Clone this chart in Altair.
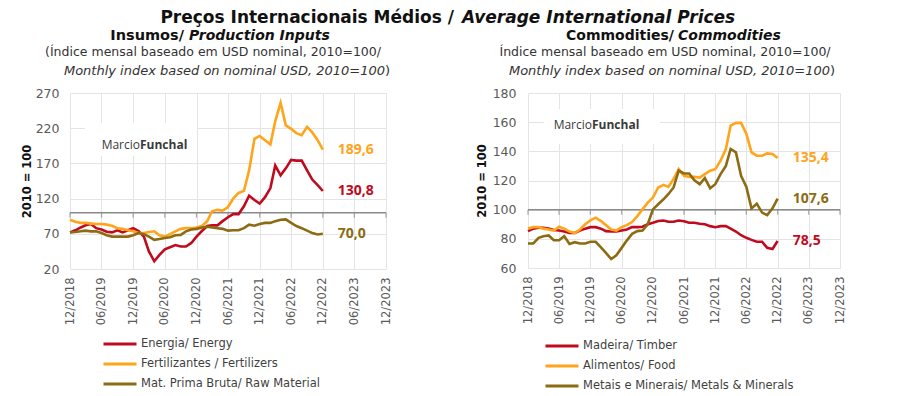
import altair as alt
import pandas as pd

FONT = "DejaVu Sans"
NUMFONT = "Open Sans"
RED = "#C00A1E"
ORANGE = "#FFA41B"
OLIVE = "#8C6B12"
GRID = "#E4E4E4"
LABEL = "#5A5A5A"

# Monthly dates 12/2018 .. 12/2022
months = [(2018, 12)] + [(y, m) for y in range(2019, 2023) for m in range(1, 13)]
dates = [f"{y}-{m:02d}-01T00:00:00" for y, m in months]

# Tick positions (every six months, 12/2018 .. 12/2023)
tick_months = [(2018, 12), (2019, 6), (2019, 12), (2020, 6), (2020, 12), (2021, 6),
               (2021, 12), (2022, 6), (2022, 12), (2023, 6), (2023, 12)]

# ---- Left panel: Insumos / Production Inputs ----
left_names = ["Energia/ Energy", "Fertilizantes / Fertilizers", "Mat. Prima Bruta/ Raw Material"]
energy = [72, 75, 79, 82, 84, 78, 76, 73, 72, 75,
          72, 75, 78, 74, 66, 45, 31, 40, 48, 51,
          54, 52, 52, 57, 66, 74, 81, 82, 82, 88,
          93.5, 98, 98, 109, 124, 118, 113, 122, 135, 167,
          153, 163, 175, 174, 174, 160, 147, 139, 130.8]
fertilizers = [90, 87, 85.5, 85.5, 84.5, 84, 84, 83, 81.5, 78,
               77, 75, 73.5, 71, 71, 72.5, 73.5, 68, 66, 69.5,
               73.5, 77, 78, 78, 79, 81, 88, 102, 104, 103,
               108, 120, 128, 131, 160, 205, 209, 203, 197, 230,
               256, 224, 219, 213, 210, 222, 214, 203, 189.6]
raw_material = [72, 72.5, 73.5, 74.5, 73.5, 73.5, 71, 68, 66, 66,
                66, 66, 68, 71, 69.5, 66, 61.5, 62.5, 64, 65,
                68, 68.5, 73.5, 76, 77, 79, 80, 79, 78, 77,
                74.5, 75, 75, 78, 83, 81.5, 84, 85.5, 85.5, 88,
                90, 90.5, 85.5, 81, 78, 74.5, 71, 69, 70.0]
left_end_labels = ["130,8", "189,6", "70,0"]

# ---- Right panel: Commodities ----
right_names = ["Madeira/ Timber", "Alimentos/ Food", "Metais e Minerais/ Metals & Minerals"]
timber = [85.3, 87, 87.6, 87.6, 87, 86, 85.7, 85, 84, 84,
          85.7, 87, 88, 88, 87, 85.3, 85, 85, 85.7, 86.4,
          88, 88, 88.3, 90, 91, 92.2, 92.6, 91.7, 91.7, 92.6,
          92, 91, 91, 90.3, 90, 88.7, 88, 88.7, 88.7, 87,
          85, 82.5, 80.7, 79.3, 78, 78, 73.8, 73, 78.5]
food = [87, 88, 88, 87, 86.4, 85.7, 88.3, 87, 85, 84,
        86.4, 90, 92.6, 94.5, 92.2, 89.4, 86.4, 85.7, 88, 89.4,
        91.5, 95.6, 100.2, 104.8, 108.3, 115.2, 117, 115.6, 121, 127.8,
        123.2, 122.5, 122.5, 122, 124.4, 126.7, 127.8, 133.6, 141.6, 157.7,
        159.5, 159.5, 152, 139.3, 137, 137, 138.6, 138.2, 135.4]
metals = [76.8, 76.8, 80.7, 81.8, 82.3, 79, 79, 81.8, 76.5, 77.7,
          76.8, 76.8, 78, 78, 74.2, 70.3, 66.2, 68.7, 73.8, 78.8,
          83.4, 85.3, 85.7, 90, 100.2, 103.7, 107.1, 110.6, 115.2, 126.7,
          124.8, 124.8, 120.2, 117.5, 121.6, 114.7, 117.5, 124.4, 130, 141.6,
          139.3, 123.2, 115.6, 100.9, 104.1, 98, 96.3, 100.9, 107.6]
right_end_labels = ["78,5", "135,4", "107,6"]

COLORS = [RED, ORANGE, OLIVE]
dummy = pd.DataFrame({"k": [0]})


def dt(y, m):
    return alt.DateTime(year=y, month=m, date=1)


def txt(s, x, y, size, weight="normal", style="normal", align="center",
        color="#111111", font=FONT):
    return alt.Chart(dummy).mark_text(
        text=s, align=align, baseline="alphabetic", fontSize=size,
        fontWeight=weight, fontStyle=style, color=color, font=font
    ).encode(x=alt.value(x), y=alt.value(y))


def make_panel(names, series, end_labels, ydomain, yticks, width, height,
               legend_x, legend_y, box, wm_x, wm_y, titles, label_pad, title_pad):
    rows = []
    for n, vals in zip(names, series):
        for d, v in zip(dates, vals):
            rows.append({"date": d, "series": n, "value": v})
    df = pd.DataFrame(rows)
    last = pd.DataFrame({"date": [dates[-1]] * len(names), "series": names,
                         "value": [v[-1] for v in series], "label": end_labels})
    ticks_df = pd.DataFrame({"date": [f"{y}-{m:02d}-01T00:00:00" for y, m in tick_months],
                             "value": [100] * len(tick_months)})
    base_df = pd.DataFrame({"value": [100]})

    X = alt.X("date:T",
              scale=alt.Scale(domain=[dt(2018, 12), dt(2023, 12)]),
              axis=alt.Axis(values=[dt(y, m) for y, m in tick_months], format="%m/%Y",
                            labelAngle=270, title=None, domain=False, ticks=False,
                            grid=True, gridColor=GRID, labelColor=LABEL,
                            labelFontSize=11.5, labelPadding=8, labelFont=FONT))
    Y = alt.Y("value:Q",
              scale=alt.Scale(domain=ydomain, nice=False, zero=False),
              axis=alt.Axis(values=yticks, title="2010 = 100", titleFontWeight="bold",
                            titleFontSize=11.5, titleColor="#111111", titlePadding=title_pad,
                            titleFont=FONT, domain=False, ticks=False, gridColor=GRID,
                            labelColor=LABEL, labelFontSize=12.5, labelPadding=label_pad,
                            labelFont=FONT))
    cscale = alt.Scale(domain=names, range=COLORS)

    box_layer = alt.Chart(dummy).mark_rect(color="white").encode(
        x=alt.value(box[0]), x2=alt.value(box[1]), y=alt.value(box[2]), y2=alt.value(box[3]))
    rule = alt.Chart(base_df).mark_rule(color="#8A8A8A", strokeWidth=1.5).encode(y=Y)
    tick_layer = alt.Chart(ticks_df).mark_tick(
        orient="vertical", size=5, thickness=1.3, yOffset=2.5, color="#8A8A8A"
    ).encode(x=X, y=Y)
    lines = alt.Chart(df).mark_line(strokeWidth=2.6).encode(
        x=X, y=Y,
        color=alt.Color("series:N", scale=cscale,
                        legend=alt.Legend(orient="none", legendX=legend_x, legendY=legend_y,
                                          title=None, symbolType="stroke", symbolStrokeWidth=3,
                                          symbolSize=1089, clipHeight=14, rowPadding=6,
                                          labelFontSize=11.5, labelColor="#3F3F3F",
                                          labelOffset=3, labelLimit=400, labelFont=FONT)),
        order=alt.Order("date:T"),
    )
    labels = alt.Chart(last).mark_text(
        align="left", baseline="middle", dx=15, fontSize=14, fontWeight="bold", font=NUMFONT
    ).encode(x=X, y=Y, text="label:N",
             color=alt.Color("series:N", scale=cscale, legend=None))
    wm1 = txt("Marcio", wm_x, wm_y, 12, align="right", color="#3A3A3A", font=NUMFONT)
    wm2 = txt("Funchal", wm_x, wm_y, 12, weight="bold", align="left", color="#3A3A3A",
              font=NUMFONT)
    title_layers = [txt(*t[:4], **t[4]) for t in titles]
    return alt.layer(box_layer, rule, tick_layer, lines, labels, wm1, wm2,
                     *title_layers).properties(width=width, height=height)


left_titles = [
    ("Preços Internacionais Médios /", 384, -70, 17, dict(weight="bold", align="right")),
    ("Average International Prices", 392, -70, 17, dict(weight="bold", style="italic", align="left")),
    ("Insumos/", 114, -53, 14.5, dict(weight="bold", align="right")),
    ("Production Inputs", 119, -53, 14, dict(weight="bold", style="italic", align="left")),
    ("(Índice mensal baseado em USD nominal, 2010=100/", 143, -37, 12.5, dict(color="#333333")),
    ("Monthly index based on nominal USD, 2010=100", 315, -18, 13,
     dict(style="italic", align="right", color="#333333")),
    (")", 315, -18, 13, dict(align="left", color="#333333")),
]
right_titles = [
    ("Commodities/", 146, -53, 14, dict(weight="bold", align="right")),
    ("Commodities", 150, -53, 14, dict(weight="bold", style="italic", align="left")),
    ("Índice mensal baseado em USD nominal, 2010=100/", 137, -37, 12.5, dict(color="#333333")),
    ("Monthly index based on nominal USD, 2010=100", 302, -18, 13,
     dict(style="italic", align="right", color="#333333")),
    (")", 302, -18, 13, dict(align="left", color="#333333")),
]

left = make_panel(left_names, [energy, fertilizers, raw_material], left_end_labels,
                  [20, 270], [20, 70, 120, 170, 220, 270], 316, 176,
                  32, 244, (15, 127, 30, 63), 70, 56, left_titles, 11, 3)
right = make_panel(right_names, [timber, food, metals], right_end_labels,
                   [60, 180], [60, 80, 100, 120, 140, 160, 180], 312, 175,
                   16, 246, (16, 132, 16, 51), 64, 36, right_titles, 12, 5)

chart = alt.hconcat(left, right, spacing=142, bounds="flush").resolve_scale(
    x="independent", y="independent", color="independent"
).resolve_legend(color="independent").properties(
    padding={"left": 13, "top": 1, "right": 5, "bottom": 0}
).configure(font=FONT).configure_view(stroke=None)

chart.save("out.html", embed_options={"renderer": "svg", "actions": False})
